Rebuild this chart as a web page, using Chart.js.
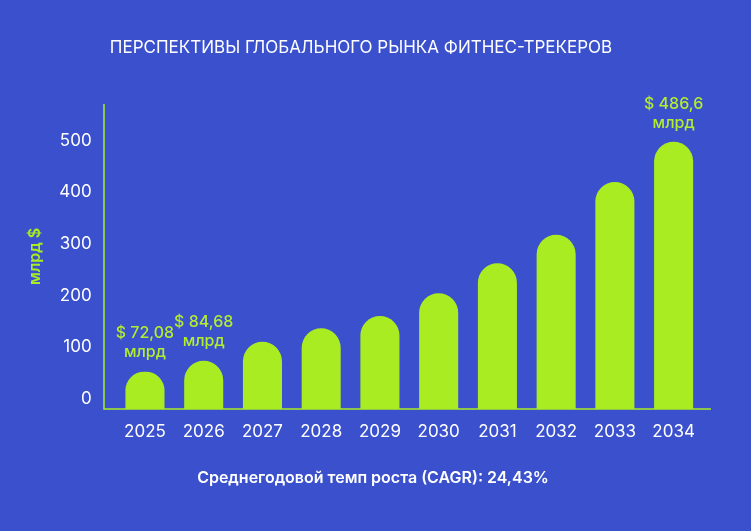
<!DOCTYPE html>
<html>
<head>
<meta charset="utf-8">
<script src="https://cdn.jsdelivr.net/npm/chart.js@4.4.0/dist/chart.umd.min.js"></script>
<style>
  body { margin: 0; background: #3a50cc; }
  #wrap { width: 751px; height: 531px; }
</style>
</head>
<body>
<div id="wrap"><canvas id="myChart" width="751" height="531"></canvas></div>
<script>
// данные графика
const years = ['2025', '2026', '2027', '2028', '2029', '2030', '2031', '2032', '2033', '2034'];
const marketValues = [72.2, 93.5, 130, 156, 180, 224, 282, 337, 439, 517];
const valueLabels = ['$ 72,08', '$ 84,68', '', '', '', '', '', '', '', '$ 486,6'];
const yTicks = [0, 100, 200, 300, 400, 500];

const lime = '#a9ec22';
const bg = '#3a50cc';
const fontFam = 'Inter, "Noto Sans", sans-serif';

// фон, оси, заголовки и подписи над столбцами
const decor = {
    id: 'decor',
    beforeDraw(chart) {
        const c = chart.ctx;
        c.save();
        c.fillStyle = bg;
        c.fillRect(0, 0, chart.width, chart.height);
        c.restore();
    },
    afterDraw(chart) {
        const c = chart.ctx;
        const a = chart.chartArea;
        c.save();
        c.strokeStyle = lime;
        c.lineWidth = 1.5;
        c.beginPath();
        c.moveTo(104, a.top);
        c.lineTo(104, a.bottom);
        c.lineTo(711, a.bottom);
        c.stroke();

        c.fillStyle = '#ffffff';
        c.textAlign = 'center';
        c.textBaseline = 'middle';
        c.font = '400 17px ' + fontFam;
        c.fillText('ПЕРСПЕКТИВЫ ГЛОБАЛЬНОГО РЫНКА ФИТНЕС-ТРЕКЕРОВ', 361, 48);
        c.font = '600 16px ' + fontFam;
        c.fillText('Среднегодовой темп роста (CAGR): 24,43%', 373, 478);

        const meta = chart.getDatasetMeta(0);
        c.fillStyle = '#b3ee2e';
        c.font = '500 16px ' + fontFam;
        meta.data.forEach((bar, i) => {
            if (!valueLabels[i]) return;
            c.fillText(valueLabels[i], bar.x, bar.y - 38);
            c.fillText('млрд', bar.x, bar.y - 19);
        });
        c.restore();
    }
};

var ctx = document.getElementById('myChart').getContext('2d');
var myChart = new Chart(ctx, {
    type: 'bar',
    data: {
        labels: years,
        datasets: [{
            data: marketValues,
            backgroundColor: lime,
            borderWidth: 0,
            borderRadius: 100,
            borderSkipped: 'start',
            barPercentage: 0.665,
            categoryPercentage: 1
        }]
    },
    options: {
        responsive: false,
        animation: false,
        devicePixelRatio: 1,
        layout: { padding: { top: 104, right: 48, left: 0, bottom: 0 } },
        scales: {
            x: {
                grid: { display: false, drawTicks: false },
                border: { display: false },
                ticks: { color: '#ffffff', font: { family: fontFam, size: 17 }, padding: 13 },
                afterFit: s => { s.height = 122; }
            },
            y: {
                min: 0,
                max: 590,
                grid: { display: false, drawTicks: false },
                border: { display: false },
                afterBuildTicks: s => { s.ticks = yTicks.map(v => ({ value: v })); },
                ticks: {
                    color: '#ffffff',
                    font: { family: fontFam, size: 17 },
                    padding: 24,
                    labelOffset: -10
                },
                title: {
                    display: true,
                    text: 'млрд $',
                    color: lime,
                    font: { family: fontFam, size: 16, weight: '600' },
                    padding: { top: 26, bottom: 0 }
                },
                afterFit: s => { s.width = 115.6; }
            }
        },
        plugins: {
            legend: { display: false },
            title: { display: false },
            tooltip: { enabled: false }
        }
    },
    plugins: [decor]
});
</script>
</body>
</html>
